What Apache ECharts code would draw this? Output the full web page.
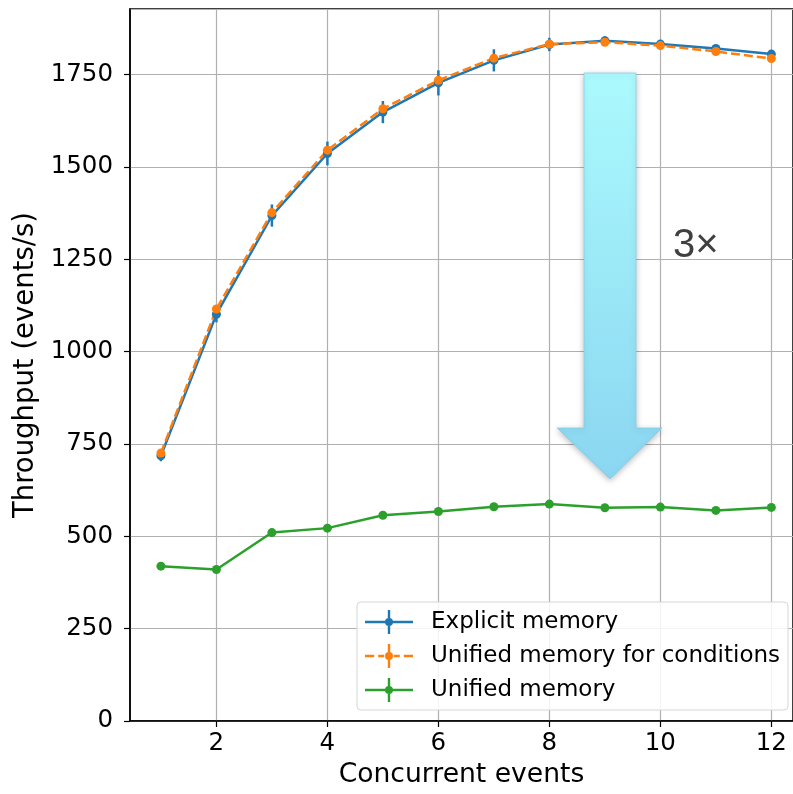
<!DOCTYPE html>
<html>
<head>
<meta charset="utf-8">
<script src="https://cdn.jsdelivr.net/npm/echarts@6/dist/echarts.min.js"></script>
<style>
  html, body { margin: 0; padding: 0; background: #fff; }
  #chart { width: 793px; height: 794px; }
</style>
</head>
<body>
<div id="chart"></div>
<script>
// data
const concurrent = [1, 2, 3, 4, 5, 6, 7, 8, 9, 10, 11, 12]
const explicitMem = [718, 1101, 1368, 1536, 1648, 1727, 1788, 1831, 1841, 1832, 1820, 1805]
const explicitErr = [15, 22, 30, 32, 30, 34, 30, 18, 12, 6, 6, 6]
const unifiedCond = [725, 1115, 1376, 1545, 1657, 1734, 1794, 1832, 1837, 1828, 1812, 1793]
const unifiedCondErr = [6, 6, 6, 6, 6, 6, 6, 6, 6, 6, 6, 6]
const unifiedMem = [419, 410, 510, 522, 557, 567, 580, 587, 577, 579, 570, 578]
const unifiedErr = [5, 5, 5, 5, 5, 5, 5, 5, 5, 5, 5, 5]
const xTicks = [2, 4, 6, 8, 10, 12]
const seriesNames = ['Explicit memory', 'Unified memory for conditions', 'Unified memory']

const BLUE = '#1f77b4'
const ORANGE = '#ff7f0e'
const GREEN = '#2ca02c'
const FONT = "'DejaVu Sans'"

// legend icons: line + vertical error bar + dot
const solidIcon = 'path://M0,10.8h48v2.4h-48z M22.8,0h2.4v24h-2.4z M28,12a4,4 0 1,1 -8,0a4,4 0 1,1 8,0z'
const dashIcon = 'path://M0,10.8h9.2v2.4h-9.2z M13.2,10.8h6v2.4h-6z M28.8,10.8h6v2.4h-6z M38.8,10.8h9.2v2.4h-9.2z M22.8,0h2.4v24h-2.4z M28,12a4,4 0 1,1 -8,0a4,4 0 1,1 8,0z'

const chart = echarts.init(document.getElementById('chart'), null, { renderer: 'canvas' })

function pairs (ys) {
  return concurrent.map((x, i) => [x, ys[i]])
}

// error bars as a custom series
function errorSeries (name, ys, errs, color) {
  return {
    name: name,
    type: 'custom',
    data: concurrent.map((x, i) => [x, ys[i], errs[i]]),
    encode: { x: 0, y: 1 },
    silent: true,
    z: 2,
    renderItem (params, api) {
      const x = api.value(0)
      const y = api.value(1)
      const e = api.value(2)
      const hi = api.coord([x, y + e])
      const lo = api.coord([x, y - e])
      return {
        type: 'line',
        shape: { x1: hi[0], y1: hi[1], x2: lo[0], y2: lo[1] },
        style: { stroke: color, lineWidth: 2.5 }
      }
    }
  }
}

function lineSeries (name, ys, color, dashed) {
  return {
    name: name,
    type: 'line',
    data: pairs(ys),
    symbol: 'circle',
    symbolSize: 9,
    z: 3,
    itemStyle: { color: color },
    lineStyle: { color: color, width: 2.5, type: dashed ? [9, 4] : 'solid' }
  }
}

chart.setOption({
  animation: false,
  textStyle: { fontFamily: FONT },
  grid: {
    left: 130,
    top: 9,
    right: -2,
    bottom: 71,
    show: true,
    borderColor: '#000',
    borderWidth: 1.5,
    backgroundColor: 'transparent'
  },
  xAxis: {
    type: 'value',
    min: 0.443,
    max: 12.39,
    name: 'Concurrent events',
    nameLocation: 'middle',
    nameGap: 41,
    nameTextStyle: { fontSize: 26.6, color: '#000', fontFamily: FONT },
    axisLine: { lineStyle: { color: '#000', width: 1.5 } },
    axisTick: { customValues: xTicks, length: 6, lineStyle: { color: '#000', width: 1.2 } },
    axisLabel: { customValues: xTicks, fontSize: 24.5, color: '#000', margin: 10, fontFamily: FONT },
    splitLine: { show: true, lineStyle: { color: '#b0b0b0', width: 1.2 } }
  },
  yAxis: {
    type: 'value',
    min: 0,
    max: 1927,
    interval: 250,
    name: 'Throughput (events/s)',
    nameLocation: 'middle',
    nameGap: 86,
    nameTextStyle: { fontSize: 27.5, color: '#000', fontFamily: FONT },
    axisLine: { show: true, lineStyle: { color: '#000', width: 1.5 } },
    axisTick: { show: true, length: 6, lineStyle: { color: '#000', width: 1.2 } },
    axisLabel: {
      fontSize: 24.5,
      color: '#000',
      margin: 17,
      showMaxLabel: false,
      fontFamily: FONT,
      formatter: v => String(v)
    },
    splitLine: { show: true, lineStyle: { color: '#b0b0b0', width: 1.2 } }
  },
  legend: {
    orient: 'vertical',
    left: 357,
    top: 602,
    padding: [8, 8, 8, 8],
    itemWidth: 48,
    itemHeight: 24,
    itemGap: 10,
    backgroundColor: 'rgba(255,255,255,0.85)',
    borderColor: '#d6d6d6',
    borderWidth: 1,
    borderRadius: 4,
    itemStyle: { borderWidth: 0 },
    textStyle: { fontSize: 23, color: '#000', fontFamily: FONT, padding: [0, 0, 0, 13] },
    data: [
      { name: seriesNames[0], icon: solidIcon },
      { name: seriesNames[1], icon: dashIcon },
      { name: seriesNames[2], icon: solidIcon }
    ],
    z: 10
  },
  // the big "3x" arrow annotation
  graphic: [
    {
      type: 'polygon',
      z: 1,
      shape: {
        points: [[584, 73], [636, 73], [636, 428], [662, 428], [610, 479], [557, 428], [584, 428]]
      },
      style: {
        fill: new echarts.graphic.LinearGradient(0, 0, 0, 1, [
          { offset: 0, color: '#abfafd' },
          { offset: 1, color: '#8bd6f1' }
        ]),
        stroke: 'rgba(130,205,228,0.7)',
        lineWidth: 1,
        shadowBlur: 6,
        shadowOffsetY: 2,
        shadowColor: 'rgba(0,0,0,0.25)'
      }
    },
    {
      type: 'text',
      z: 1,
      style: {
        x: 673,
        y: 226,
        text: '3×',
        fontSize: 40,
        fontFamily: 'Liberation Sans',
        fill: '#404040',
        textVerticalAlign: 'top'
      }
    }
  ],
  series: [
    errorSeries('err0', explicitMem, explicitErr, BLUE),
    lineSeries(seriesNames[0], explicitMem, BLUE, false),
    errorSeries('err1', unifiedCond, unifiedCondErr, ORANGE),
    lineSeries(seriesNames[1], unifiedCond, ORANGE, true),
    errorSeries('err2', unifiedMem, unifiedErr, GREEN),
    lineSeries(seriesNames[2], unifiedMem, GREEN, false)
  ]
})
</script>
</body>
</html>
